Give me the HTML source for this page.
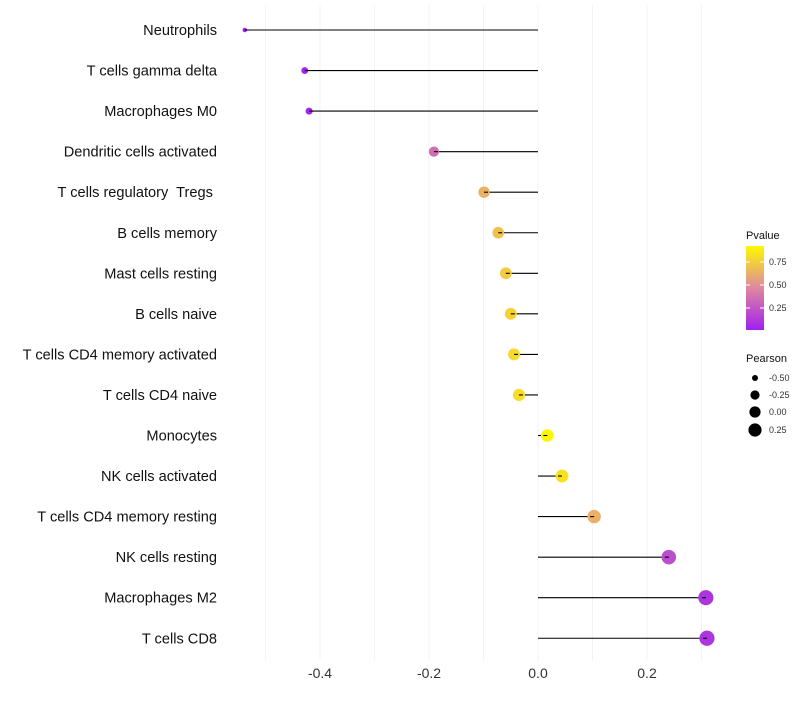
<!DOCTYPE html>
<html><head><meta charset="utf-8"><style>
body{margin:0;background:#fff;font-family:"Liberation Sans",sans-serif}
text{white-space:pre}
</style></head><body>
<svg id="chart" width="800" height="700" xmlns="http://www.w3.org/2000/svg"></svg>
<script>
const categories=["Neutrophils","T cells gamma delta","Macrophages M0","Dendritic cells activated","T cells regulatory  Tregs ","B cells memory","Mast cells resting","B cells naive","T cells CD4 memory activated","T cells CD4 naive","Monocytes","NK cells activated","T cells CD4 memory resting","NK cells resting","Macrophages M2","T cells CD8"];
const pearson=[-0.538,-0.428,-0.420,-0.191,-0.099,-0.073,-0.059,-0.050,-0.044,-0.035,0.017,0.044,0.103,0.240,0.308,0.310];
const pvalue=[0.02,0.03,0.04,0.38,0.68,0.76,0.8,0.84,0.86,0.88,0.99,0.9,0.68,0.22,0.10,0.10];
const xTicks=[-0.4,-0.2,0,0.2];
const xTickLabels=["-0.4","-0.2","0.0","0.2"];
const NS="http://www.w3.org/2000/svg";
const svg=document.getElementById('chart');
function x(v){return 538+v*545;}
function y(i){return 30+i*40.55;}
function mk(t,a,p){const e=document.createElementNS(NS,t);for(const k in a)e.setAttribute(k,a[k]);(p||svg).appendChild(e);return e;}
function lerp(a,b,t){return a.map((v,i)=>Math.round(v+(b[i]-v)*t));}
function col(p){const s=[[160,32,240],[222,136,160],[255,248,0]];let c=p<0.5?lerp(s[0],s[1],p/0.5):lerp(s[1],s[2],(p-0.5)/0.5);return `rgb(${c[0]},${c[1]},${c[2]})`;}
function rad(v){return Math.sqrt(5+(v+0.538)*62);}
for(let g=-0.5;g<=0.35;g+=0.1){const l=mk('line',{x1:x(g),x2:x(g),y1:5,y2:660,stroke:'#f3f3f3','stroke-width':1});

}
xTicks.forEach((t,i)=>{const e=mk('text',{x:x(t),y:678,'text-anchor':'middle','font-size':14,fill:'#333'});e.textContent=xTickLabels[i];

});
categories.forEach((c,i)=>{
 const t=mk('text',{x:217,y:y(i)+5,'text-anchor':'end','font-size':14.6,fill:'#111'});t.textContent=c;
 
 
 const l=mk('line',{x1:x(0),x2:x(pearson[i]),y1:y(i),y2:y(i),stroke:'#000','stroke-width':1.1});
 
 
 const d=mk('circle',{cx:x(pearson[i]),cy:y(i),r:rad(pearson[i]),fill:col(pvalue[i])});
 
 
 const l2=mk('line',{x1:x(pearson[i]),x2:x(pearson[i])+(pearson[i]<0?4:-4),y1:y(i),y2:y(i),stroke:'#000','stroke-width':1.1});
 
 
});
const defs=mk('defs',{});const gr=mk('linearGradient',{id:'pg',x1:0,y1:1,x2:0,y2:0},defs);
[0,0.5,1].forEach(o=>mk('stop',{offset:o,'stop-color':col(o)},gr));
const lt=mk('text',{x:746,y:239,'font-size':11,fill:'#111'});lt.textContent='Pvalue';


const bar=mk('rect',{x:746,y:246,width:18,height:84,fill:'url(#pg)'});


[["0.75",262],["0.50",285],["0.25",308]].forEach(a=>{mk('line',{x1:746,x2:750,y1:a[1],y2:a[1],stroke:'#fff'});mk('line',{x1:760,x2:764,y1:a[1],y2:a[1],stroke:'#fff'});
const t=mk('text',{x:769,y:a[1]+3,'font-size':9,fill:'#333'});t.textContent=a[0];

});
const pt=mk('text',{x:746,y:362,'font-size':11,fill:'#111'});pt.textContent='Pearson';


[["-0.50",378,3],["-0.25",395,4.6],["0.00",412,5.6],["0.25",430,6.6]].forEach(a=>{
const c=mk('circle',{cx:755,cy:a[1],r:a[2],fill:'#000'});


const t=mk('text',{x:769,y:a[1]+3,'font-size':9,fill:'#333'});t.textContent=a[0];

});
</script>
</body></html>
